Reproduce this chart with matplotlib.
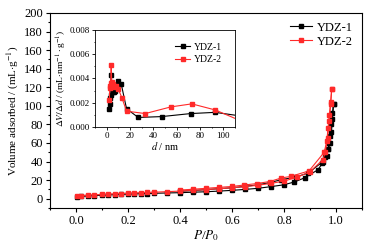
import matplotlib
matplotlib.use("Agg")
import matplotlib.pyplot as plt
from matplotlib.ticker import MultipleLocator

plt.rcParams['font.family'] = ['Liberation Serif', 'DejaVu Serif']
plt.rcParams['mathtext.fontset'] = 'stix'

# isotherm data, P/P0 vs volume adsorbed (mL/g)
p1_ads = [0.005, 0.02, 0.045, 0.07, 0.1, 0.125, 0.15, 0.175, 0.2, 0.225, 0.25, 0.275, 0.3,
          0.35, 0.4, 0.45, 0.5, 0.55, 0.6, 0.65, 0.7, 0.75, 0.8, 0.84, 0.88, 0.93, 0.948,
          0.964, 0.971, 0.977, 0.983, 0.987, 0.991]
v1_ads = [1.7, 2.5, 3.0, 3.4, 3.8, 4.1, 4.4, 4.7, 5.0, 5.2, 5.4, 5.6, 5.8,
          6.2, 6.5, 7.0, 7.5, 8.2, 9.0, 10.0, 11.2, 13.0, 15.0, 18.0, 22.5, 31.0, 38.0,
          46.0, 53.0, 60.0, 72.0, 86.0, 102.0]
p1_des = [0.991, 0.987, 0.983, 0.979, 0.975, 0.97, 0.96, 0.95, 0.894, 0.846, 0.79,
          0.745, 0.7, 0.65, 0.6, 0.55, 0.5, 0.45, 0.4]
v1_des = [102.0, 92.0, 80.0, 68.0, 60.0, 54.0, 45.0, 40.0, 27.7, 23.4, 20.5,
          17.3, 15.0, 13.2, 11.8, 10.8, 9.8, 8.8, 8.0]

p2_ads = [0.005, 0.02, 0.045, 0.07, 0.1, 0.125, 0.15, 0.175, 0.2, 0.225, 0.25, 0.275, 0.3,
          0.35, 0.4, 0.45, 0.5, 0.55, 0.6, 0.65, 0.7, 0.75, 0.8, 0.85, 0.9, 0.95, 0.959,
          0.968, 0.974, 0.98, 0.984]
v2_ads = [2.8, 3.3, 3.8, 4.2, 4.6, 5.0, 5.3, 5.6, 5.9, 6.2, 6.5, 6.8, 7.0,
          7.6, 8.2, 9.0, 9.8, 10.7, 11.8, 13.0, 14.5, 16.5, 19.0, 23.0, 29.0, 42.0, 50.0,
          65.0, 84.0, 102.0, 118.0]
p2_des = [0.984, 0.98, 0.975, 0.97, 0.965, 0.955, 0.897, 0.826, 0.79, 0.745, 0.695,
          0.646, 0.6, 0.55, 0.5, 0.45, 0.4]
v2_des = [118.0, 104.0, 90.0, 76.0, 62.0, 50.0, 30.0, 24.0, 22.3, 18.5, 16.3,
          14.7, 13.2, 12.2, 11.2, 10.2, 9.3]

# pore size distribution (inset)
d1 = [2.2, 2.6, 3.0, 3.4, 3.8, 4.3, 5.0, 6.0, 7.5, 9.5, 12.5, 17, 27, 47, 72, 93, 115]
dv1 = [0.0015, 0.0019, 0.0024, 0.0026, 0.0043, 0.0035, 0.0029, 0.0029, 0.0030,
       0.0038, 0.0035, 0.0015, 0.00078, 0.00085, 0.0011, 0.0012, 0.0009]
d2 = [2.2, 2.6, 3.0, 3.4, 3.8, 4.3, 5.0, 6.0, 8.0, 10.0, 13.0, 17, 33, 55, 73, 93, 115]
dv2 = [0.0022, 0.0032, 0.0034, 0.0036, 0.0051, 0.0037, 0.0035, 0.0033, 0.0034,
       0.0031, 0.0024, 0.0013, 0.0011, 0.00165, 0.0019, 0.0014, 0.0005]

red = '#ff2a2a'

fig = plt.figure(figsize=(3.7, 2.45), dpi=100)
ax = fig.add_axes([0.135, 0.151, 0.843, 0.796])

ax.plot(p1_ads, v1_ads, '-s', color='black', lw=0.8, ms=2.4, label='YDZ-1')
ax.plot(p1_des, v1_des, '-s', color='black', lw=0.8, ms=2.4)
ax.plot(p2_ads, v2_ads, '-s', color=red, lw=0.8, ms=2.4, label='YDZ-2')
ax.plot(p2_des, v2_des, '-s', color=red, lw=0.8, ms=2.4)

ax.set_xlim(-0.1, 1.1)
ax.set_ylim(-10, 200)
ax.xaxis.set_major_locator(MultipleLocator(0.2))
ax.xaxis.set_minor_locator(MultipleLocator(0.1))
ax.yaxis.set_major_locator(MultipleLocator(20))
ax.yaxis.set_minor_locator(MultipleLocator(10))
ax.tick_params(which='both', direction='out', labelsize=9, width=0.8, pad=2)
ax.tick_params(which='major', length=3)
ax.tick_params(which='minor', length=1.5)
ax.set_xticks([0.0, 0.2, 0.4, 0.6, 0.8, 1.0])
ax.set_xticklabels(['0.0', '0.2', '0.4', '0.6', '0.8', '1.0'])
ax.set_xlabel(r'$P$/$P_0$', fontsize=9.5, labelpad=1)
ax.set_ylabel(r'Volume adsorbed / (mL$\cdot$g$^{-1}$)', fontsize=8, labelpad=2)
for s in ax.spines.values():
    s.set_linewidth(0.8)
ax.legend(loc='upper right', frameon=False, fontsize=9, handlelength=1.8,
          handletextpad=0.4, labelspacing=0.15, borderaxespad=0.3)

# inset
ins = fig.add_axes([0.257, 0.482, 0.378, 0.396])
ins.plot(d1, dv1, '-s', color='black', lw=0.8, ms=2.2, label='YDZ-1')
ins.plot(d2, dv2, '-s', color=red, lw=0.8, ms=2.2, label='YDZ-2')
ins.set_xlim(-10, 110)
ins.set_ylim(0, 0.008)
ins.xaxis.set_major_locator(MultipleLocator(20))
ins.xaxis.set_minor_locator(MultipleLocator(10))
ins.yaxis.set_major_locator(MultipleLocator(0.002))
ins.yaxis.set_minor_locator(MultipleLocator(0.001))
ins.tick_params(which='both', direction='out', labelsize=6.5, width=0.6, pad=1.5)
ins.tick_params(which='major', length=2)
ins.tick_params(which='minor', length=1)
ins.set_xticks([0, 20, 40, 60, 80, 100])
ins.set_yticks([0.0, 0.002, 0.004, 0.006, 0.008])
ins.set_yticklabels(['0.000', '0.002', '0.004', '0.006', '0.008'])
ins.set_xlabel(r'$d$ / nm', fontsize=7.5, labelpad=0.5)
ins.set_ylabel(r'$\Delta V/\Delta d$ / (mL$\cdot$nm$^{-1}\cdot$g$^{-1}$)', fontsize=6.8, labelpad=1)
for s in ins.spines.values():
    s.set_linewidth(0.6)
ins.legend(loc='upper right', frameon=False, fontsize=7, handlelength=1.6,
           handletextpad=0.4, labelspacing=0.35, borderaxespad=0.9, markerscale=1.5)

fig.savefig('out.png', dpi=100)
